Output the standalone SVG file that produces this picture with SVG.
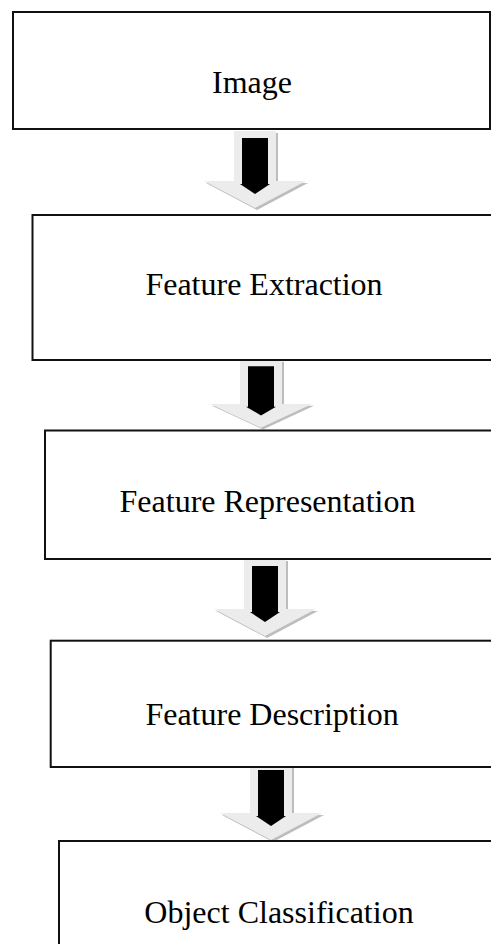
<svg xmlns="http://www.w3.org/2000/svg" width="491" height="944" viewBox="0 0 491 944">
  <style>
    .box { fill: #ffffff; stroke: #111111; stroke-width: 2; }
    .label { font-family: "Liberation Serif", "Times New Roman", serif; font-size: 32px; fill: #000000; text-anchor: middle; }
    .ashadow { fill: #bdbdbd; }
    .aouter { fill: #ececec; }
    .ainner { fill: #000000; }
  </style>
  <defs>
    <g id="blockArrow">
      <path class="ashadow" d="M-19,2 L23,2 L23,52 L53,52 L2,79 L-49,52 L-19,52 Z"/>
      <path class="aouter" d="M-21,0 L21,0 L21,50 L51,50 L0,77 L-51,50 L-21,50 Z"/>
      <path class="ainner" d="M-13,7 L13,7 L13,53 L15,53 L0,63 L-15,53 L-13,53 Z"/>
    </g>
  </defs>

  <g id="connectors">
    <use href="#blockArrow" transform="translate(255,131)"/>
    <use href="#blockArrow" transform="translate(261,360) scale(1,0.88)"/>
    <use href="#blockArrow" transform="translate(265,559)"/>
    <use href="#blockArrow" transform="translate(271,763)"/>
  </g>

  <g id="node-image">
    <rect class="box" x="13" y="12" width="477" height="117"/>
    <text class="label" x="252" y="93">Image</text>
  </g>
  <g id="node-feature-extraction">
    <rect class="box" x="32.5" y="215" width="470" height="145"/>
    <text class="label" x="264" y="295">Feature Extraction</text>
  </g>
  <g id="node-feature-representation">
    <rect class="box" x="45" y="430.5" width="460" height="128.5"/>
    <text class="label" x="267.5" y="512">Feature Representation</text>
  </g>
  <g id="node-feature-description">
    <rect class="box" x="50.7" y="640.7" width="455" height="126.3"/>
    <text class="label" x="272" y="725">Feature Description</text>
  </g>
  <g id="node-object-classification">
    <rect class="box" x="59" y="841" width="450" height="120"/>
    <text class="label" x="279" y="923">Object Classification</text>
  </g>
</svg>
